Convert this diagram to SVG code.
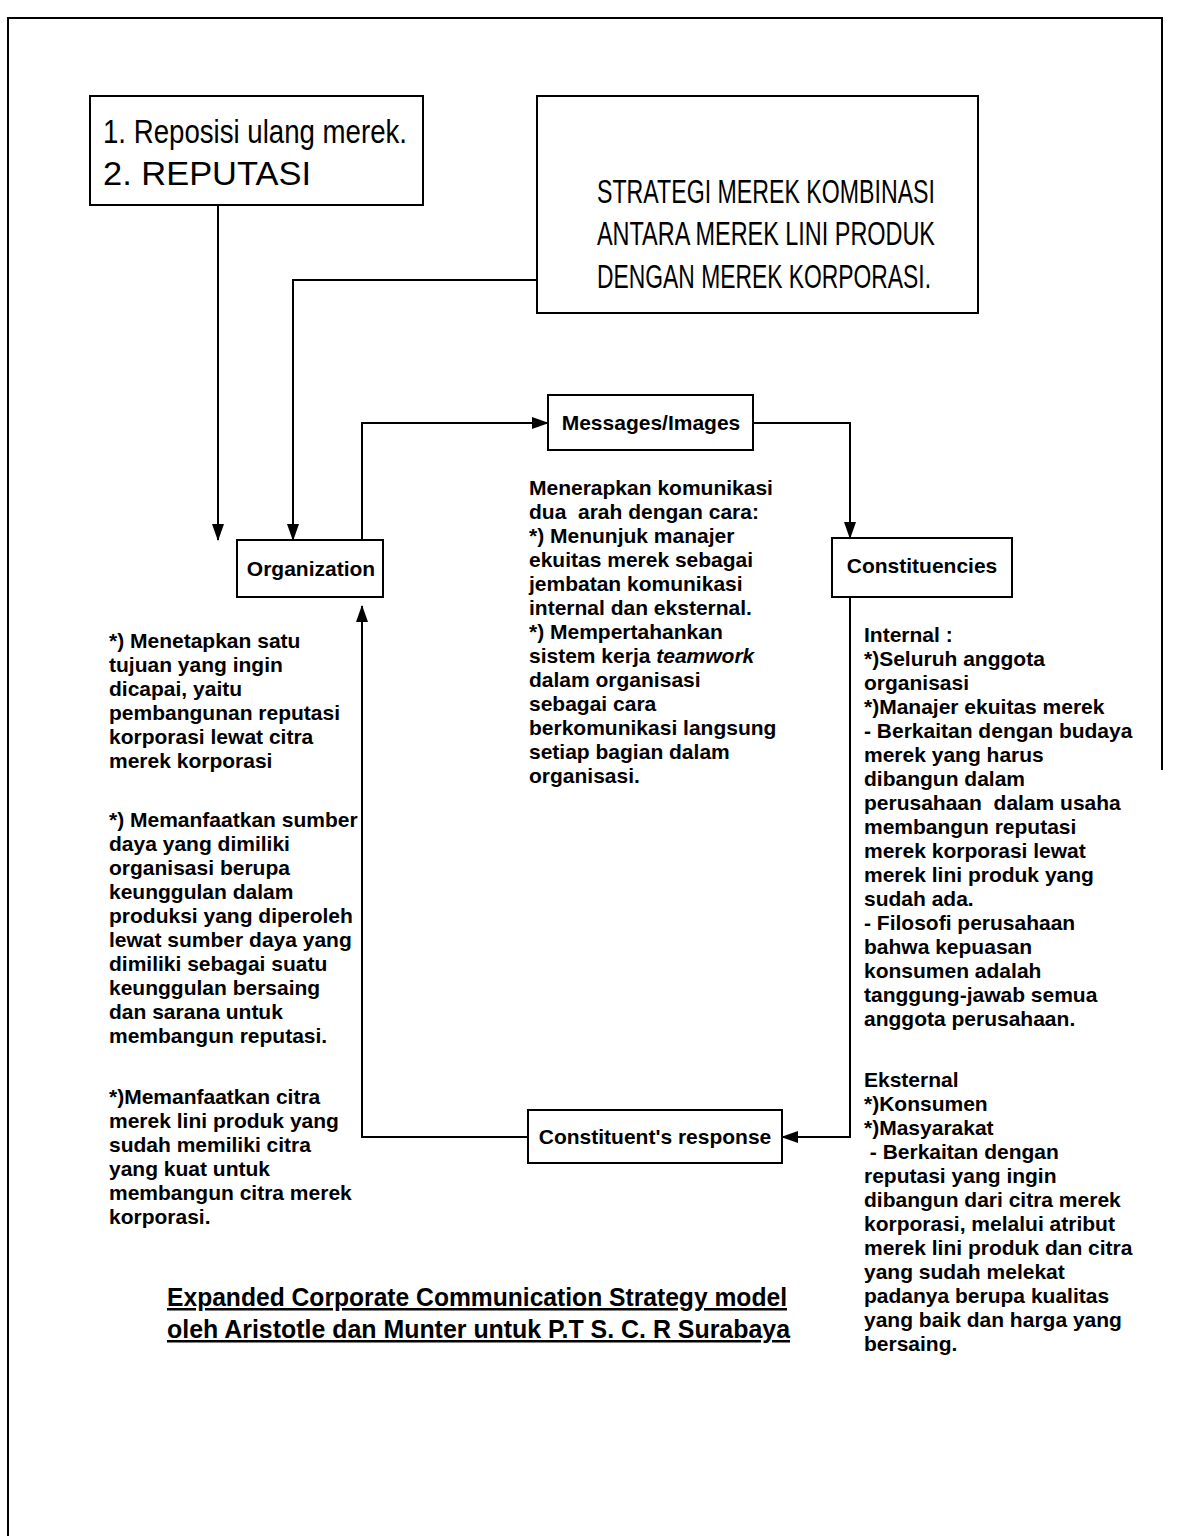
<svg xmlns="http://www.w3.org/2000/svg" width="1178" height="1536" viewBox="0 0 1178 1536">
<defs>
<marker id="arr" viewBox="0 0 17 12" refX="16" refY="6" markerWidth="17" markerHeight="12" markerUnits="userSpaceOnUse" orient="auto">
<path d="M0,0 L17,6 L0,12 Z" fill="#000"/>
</marker>
<style>
.box{fill:#fff;stroke:#000;stroke-width:2}
.big{font-family:"Liberation Sans",Arial,sans-serif;font-size:34px;fill:#000}
.lbl{font-family:"Liberation Sans",Arial,sans-serif;font-size:21px;font-weight:bold;fill:#000;text-anchor:middle}
.body{font-family:"Liberation Sans",Arial,sans-serif;font-size:21px;font-weight:bold;fill:#000}
.cap{font-family:"Liberation Sans",Arial,sans-serif;font-size:25px;font-weight:bold;fill:#000;text-decoration:underline}
.ln{fill:none;stroke:#000;stroke-width:2}
</style>
</defs>
<rect width="1178" height="1536" fill="#fff"/>
<g id="frame">
<path class="ln" d="M8,1536 V18 H1162 V770"/>
</g>
<g id="connectors">
<path class="ln" d="M218,205 V540" marker-end="url(#arr)"/>
<path class="ln" d="M537,280 H293 V540" marker-end="url(#arr)"/>
<path class="ln" d="M362,540 V423 H548" marker-end="url(#arr)"/>
<path class="ln" d="M753,423 H850 V538" marker-end="url(#arr)"/>
<path class="ln" d="M850,597 V1137 H782" marker-end="url(#arr)"/>
<path class="ln" d="M528,1137 H362 V606" marker-end="url(#arr)"/>
</g>
<g id="box-reposisi">
<rect class="box" x="90" y="96" width="333" height="109"/>
<text class="big" x="103" y="143" textLength="304" lengthAdjust="spacingAndGlyphs">1. Reposisi ulang merek.</text>
<text class="big" x="103" y="185" textLength="208" lengthAdjust="spacingAndGlyphs">2. REPUTASI</text>
</g>
<g id="box-strategi">
<rect class="box" x="537" y="96" width="441" height="217"/>
<text class="big" x="597" y="203" textLength="338" lengthAdjust="spacingAndGlyphs">STRATEGI MEREK KOMBINASI</text>
<text class="big" x="597" y="245" textLength="338" lengthAdjust="spacingAndGlyphs">ANTARA MEREK LINI PRODUK</text>
<text class="big" x="597" y="288" textLength="334" lengthAdjust="spacingAndGlyphs">DENGAN MEREK KORPORASI.</text>
</g>
<g id="node-organization">
<rect class="box" x="237" y="540" width="146" height="57"/>
<text class="lbl" x="311" y="576">Organization</text>
</g>
<g id="node-messages">
<rect class="box" x="548" y="395" width="205" height="55"/>
<text class="lbl" x="651" y="430">Messages/Images</text>
</g>
<g id="node-constituencies">
<rect class="box" x="832" y="538" width="180" height="59"/>
<text class="lbl" x="922" y="573">Constituencies</text>
</g>
<g id="node-response">
<rect class="box" x="528" y="1110" width="254" height="53"/>
<text class="lbl" x="655" y="1144">Constituent's response</text>
</g>
<g id="text-left" class="body">
<text x="109" y="648">*) Menetapkan satu</text>
<text x="109" y="672">tujuan yang ingin</text>
<text x="109" y="696">dicapai, yaitu</text>
<text x="109" y="720">pembangunan reputasi</text>
<text x="109" y="744">korporasi lewat citra</text>
<text x="109" y="768">merek korporasi</text>
<text x="109" y="827">*) Memanfaatkan sumber</text>
<text x="109" y="851">daya yang dimiliki</text>
<text x="109" y="875">organisasi berupa</text>
<text x="109" y="899">keunggulan dalam</text>
<text x="109" y="923">produksi yang diperoleh</text>
<text x="109" y="947">lewat sumber daya yang</text>
<text x="109" y="971">dimiliki sebagai suatu</text>
<text x="109" y="995">keunggulan bersaing</text>
<text x="109" y="1019">dan sarana untuk</text>
<text x="109" y="1043">membangun reputasi.</text>
<text x="109" y="1104">*)Memanfaatkan citra</text>
<text x="109" y="1128">merek lini produk yang</text>
<text x="109" y="1152">sudah memiliki citra</text>
<text x="109" y="1176">yang kuat untuk</text>
<text x="109" y="1200">membangun citra merek</text>
<text x="109" y="1224">korporasi.</text>
</g>
<g id="text-middle" class="body">
<text x="529" y="495">Menerapkan komunikasi</text>
<text x="529" y="519" xml:space="preserve">dua  arah dengan cara:</text>
<text x="529" y="543">*) Menunjuk manajer</text>
<text x="529" y="567">ekuitas merek sebagai</text>
<text x="529" y="591">jembatan komunikasi</text>
<text x="529" y="615">internal dan eksternal.</text>
<text x="529" y="639">*) Mempertahankan</text>
<text x="529" y="663">sistem kerja <tspan font-style="italic">teamwork</tspan></text>
<text x="529" y="687">dalam organisasi</text>
<text x="529" y="711">sebagai cara</text>
<text x="529" y="735">berkomunikasi langsung</text>
<text x="529" y="759">setiap bagian dalam</text>
<text x="529" y="783">organisasi.</text>
</g>
<g id="text-right" class="body">
<text x="864" y="642">Internal :</text>
<text x="864" y="666">*)Seluruh anggota</text>
<text x="864" y="690">organisasi</text>
<text x="864" y="714">*)Manajer ekuitas merek</text>
<text x="864" y="738">- Berkaitan dengan budaya</text>
<text x="864" y="762">merek yang harus</text>
<text x="864" y="786">dibangun dalam</text>
<text x="864" y="810" xml:space="preserve">perusahaan  dalam usaha</text>
<text x="864" y="834">membangun reputasi</text>
<text x="864" y="858">merek korporasi lewat</text>
<text x="864" y="882">merek lini produk yang</text>
<text x="864" y="906">sudah ada.</text>
<text x="864" y="930">- Filosofi perusahaan</text>
<text x="864" y="954">bahwa kepuasan</text>
<text x="864" y="978">konsumen adalah</text>
<text x="864" y="1002">tanggung-jawab semua</text>
<text x="864" y="1026">anggota perusahaan.</text>
<text x="864" y="1087">Eksternal</text>
<text x="864" y="1111">*)Konsumen</text>
<text x="864" y="1135">*)Masyarakat</text>
<text x="864" y="1159" xml:space="preserve"> - Berkaitan dengan</text>
<text x="864" y="1183">reputasi yang ingin</text>
<text x="864" y="1207">dibangun dari citra merek</text>
<text x="864" y="1231">korporasi, melalui atribut</text>
<text x="864" y="1255">merek lini produk dan citra</text>
<text x="864" y="1279">yang sudah melekat</text>
<text x="864" y="1303">padanya berupa kualitas</text>
<text x="864" y="1327">yang baik dan harga yang</text>
<text x="864" y="1351">bersaing.</text>
</g>
<g id="caption">
<text class="cap" x="167" y="1306" textLength="620" lengthAdjust="spacingAndGlyphs">Expanded Corporate Communication Strategy model</text>
<text class="cap" x="167" y="1338" textLength="623" lengthAdjust="spacingAndGlyphs">oleh Aristotle dan Munter untuk P.T S. C. R Surabaya</text>
</g>
</svg>
